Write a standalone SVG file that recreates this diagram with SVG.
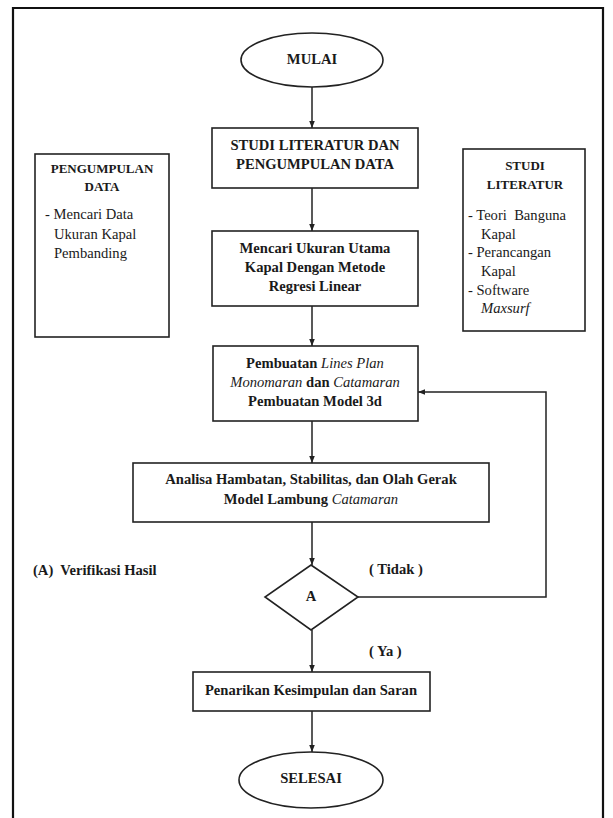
<svg xmlns="http://www.w3.org/2000/svg" width="613" height="818" viewBox="0 0 613 818">
<style>
.box{fill:#fff;stroke:#222;stroke-width:1.6}
.frame{fill:none;stroke:#111;stroke-width:2.2}
.conn{fill:none;stroke:#222;stroke-width:1.5}
text{font-family:'Liberation Serif','Times New Roman',serif;fill:#1a1a1a;white-space:pre}
.b{font-weight:bold;font-size:14.6px}
.h{font-weight:bold;font-size:13px}
.t{text-anchor:middle}
.r{font-size:14.6px}
.i{font-style:italic;font-weight:normal}
</style>
<defs>
<marker id="ah" viewBox="0 0 10 10" refX="10" refY="5" markerWidth="7" markerHeight="7" markerUnits="userSpaceOnUse" orient="auto">
<path d="M0,1 L10,5 L0,9 Z" fill="#222"/>
</marker>
</defs>
<rect width="613" height="818" fill="#fff"/>
<path class="frame" d="M13,830 V8 H603 V830"/>

<g id="connectors">
<line class="conn" x1="312" y1="87" x2="312" y2="128" marker-end="url(#ah)"/>
<line class="conn" x1="312" y1="188" x2="312" y2="231" marker-end="url(#ah)"/>
<line class="conn" x1="312" y1="306" x2="312" y2="346" marker-end="url(#ah)"/>
<line class="conn" x1="312" y1="421" x2="312" y2="463" marker-end="url(#ah)"/>
<line class="conn" x1="312" y1="522" x2="312" y2="565" marker-end="url(#ah)"/>
<line class="conn" x1="312" y1="630" x2="312" y2="672" marker-end="url(#ah)"/>
<line class="conn" x1="312" y1="711" x2="312" y2="752" marker-end="url(#ah)"/>
<polyline class="conn" points="358,597 546,597 546,392 418,392" marker-end="url(#ah)"/>
</g>

<g id="mulai">
<ellipse class="box" cx="312" cy="60" rx="71" ry="27"/>
<text class="b t" x="312" y="64">MULAI</text>
</g>

<g id="studi-pengumpulan">
<rect class="box" x="212" y="128" width="206" height="60"/>
<text class="b t" x="315" y="150">STUDI LITERATUR DAN</text>
<text class="b t" x="315" y="169">PENGUMPULAN DATA</text>
</g>

<g id="mencari-ukuran">
<rect class="box" x="212" y="231" width="206" height="75"/>
<text class="b t" x="315" y="253">Mencari Ukuran Utama</text>
<text class="b t" x="315" y="272">Kapal Dengan Metode</text>
<text class="b t" x="315" y="291">Regresi Linear</text>
</g>

<g id="lines-plan">
<rect class="box" x="213" y="346" width="205" height="75"/>
<text class="b t" x="315" y="368">Pembuatan <tspan class="i">Lines Plan</tspan></text>
<text class="b t" x="315" y="387"><tspan class="i">Monomaran</tspan> dan <tspan class="i">Catamaran</tspan></text>
<text class="b t" x="315" y="406">Pembuatan Model 3d</text>
</g>

<g id="analisa">
<rect class="box" x="133" y="463" width="356" height="59"/>
<text class="b t" x="311" y="484">Analisa Hambatan, Stabilitas, dan Olah Gerak</text>
<text class="b t" x="311" y="504">Model Lambung <tspan class="i">Catamaran</tspan></text>
</g>

<g id="verifikasi">
<polygon class="box" points="311,565 358,597 311,630 265,597"/>
<text class="b t" x="311" y="601">A</text>
</g>

<g id="kesimpulan">
<rect class="box" x="193" y="672" width="237" height="39"/>
<text class="b t" x="311" y="695">Penarikan Kesimpulan dan Saran</text>
</g>

<g id="selesai">
<ellipse class="box" cx="311" cy="780" rx="72" ry="28"/>
<text class="b t" x="311" y="783">SELESAI</text>
</g>

<g id="pengumpulan-data">
<rect class="box" x="35" y="154" width="134" height="183"/>
<text class="h t" x="102" y="173">PENGUMPULAN</text>
<text class="h t" x="102" y="191">DATA</text>
<text class="r" x="45" y="219">- Mencari Data</text>
<text class="r" x="54" y="239">Ukuran Kapal</text>
<text class="r" x="54" y="258">Pembanding</text>
</g>

<g id="studi-literatur">
<rect class="box" x="463" y="149" width="122" height="182"/>
<text class="h t" x="525" y="170">STUDI</text>
<text class="h t" x="525" y="189">LITERATUR</text>
<text class="r" x="468" y="220">- Teori  Banguna</text>
<text class="r" x="481" y="239">Kapal</text>
<text class="r" x="468" y="257">- Perancangan</text>
<text class="r" x="481" y="276">Kapal</text>
<text class="r" x="468" y="295">- Software</text>
<text class="r i" x="481" y="313">Maxsurf</text>
</g>

<g id="labels">
<text class="b" x="33" y="575">(A)  Verifikasi Hasil</text>
<text class="b" x="369" y="574">( Tidak )</text>
<text class="b" x="369" y="656">( Ya )</text>
</g>
</svg>
